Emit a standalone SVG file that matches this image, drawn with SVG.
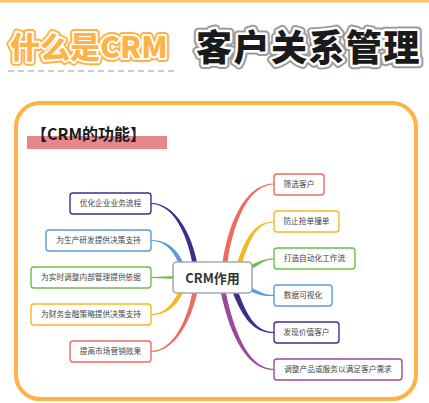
<svg xmlns="http://www.w3.org/2000/svg" width="429" height="403" viewBox="0 0 429 403">
<style>
.cjk{font-family:"Noto Sans CJK SC","Noto Sans",sans-serif}
.nt{font-family:"Noto Sans CJK SC","Noto Sans",sans-serif;font-size:7.7px;fill:#444;text-anchor:middle}
.box{fill:#fff;stroke-width:1.4}
</style>
<rect x="0" y="0" width="429" height="403" fill="#fff"/>
<rect x="0" y="0" width="429" height="2.5" fill="#ffc05e"/>
<g id="title">
<text class="cjk" x="10" y="58" font-size="30" font-weight="900" fill="none" stroke="#ffb347" stroke-width="8" stroke-linejoin="round">什么是CRM</text>
<text class="cjk" x="10" y="58" font-size="30" font-weight="900" fill="#ffb347" stroke="#fff" stroke-width="4" stroke-linejoin="round" paint-order="stroke">什么是CRM</text>
<line x1="8" y1="71" x2="177" y2="71" stroke="#bdbdbd" stroke-width="1.5" stroke-dasharray="6 4"/>
<text class="cjk" x="196" y="61" font-size="36" font-weight="900" letter-spacing="1.5" fill="none" stroke="#9a9a9a" stroke-width="9" stroke-linejoin="round">客户关系管理</text>
<text class="cjk" x="196" y="61" font-size="36" font-weight="900" letter-spacing="1.5" fill="#1a1a1a" stroke="#fff" stroke-width="5" stroke-linejoin="round" paint-order="stroke">客户关系管理</text>
</g>
<rect x="16" y="103" width="400" height="296" rx="24" fill="#fff" stroke="#ffb347" stroke-width="4"/>
<g id="card-title">
<rect x="27" y="136" width="140" height="13" fill="#e8878b"/>
<text class="cjk" x="31" y="139.5" font-size="16" font-weight="bold" fill="#1a1a1a">【CRM的功能】</text>
</g>
<g id="connectors">
<path fill="#ec6b5e" d="M222.5,262 C230,214 249,183.4 274,183.4 L274,184.6 C251,184.6 234.5,216 227.5,262 Z"/>
<path fill="#f6b822" d="M237.5,262 C245,239 254,221.4 274,221.4 L274,222.6 C256,222.6 249.5,241 242.5,262 Z"/>
<path fill="#6cc04a" d="M251,265.5 C259,260.5 265,258.4 274,258.4 L274,259.6 C265,259.6 261,263.5 253,268.5 Z"/>
<path fill="#5a9bd8" d="M249,290.5 C259,295.5 265,296.1 274,296.1 L274,294.9 C265,294.9 261,292.5 251,287.5 Z"/>
<path fill="#3b2f8c" d="M232.5,292 C243,319 254,333.1 274,333.1 L274,331.9 C256,331.9 247.5,317 237.5,290 Z"/>
<path fill="#9b4a9a" d="M220.5,291 C231,341 249,370.1 274,370.1 L274,368.9 C251,368.9 235.5,339 225.5,291 Z"/>
<path fill="#3b2f8c" d="M197.5,264 C192,235 176,202.9 151,202.9 L151,204.1 C174,204.1 187.5,236 192.5,264 Z"/>
<path fill="#5a9bd8" d="M184,264 C178,251 169,239.9 151,239.9 L151,241.1 C167,241.1 174,253 180,266 Z"/>
<path fill="#6cc04a" d="M151,276.9 L176,276 L176,279 L151,278.1 Z"/>
<path fill="#f6b822" d="M180,289 C174,301 167,313.9 151,313.9 L151,315.1 C169,315.1 178,303 184,291 Z"/>
<path fill="#ec6b5e" d="M192.5,291 C188,318 174,350.9 151,350.9 L151,352.1 C176,352.1 192,318 197.5,291 Z"/>
</g>
<g id="center">
<rect x="173" y="262" width="79" height="31" rx="4" fill="#fff" stroke="#a3aab2" stroke-width="1.6"/>
<text class="cjk" x="212.5" y="282.5" font-size="13" font-weight="bold" fill="#333" text-anchor="middle">CRM作用</text>
</g>
<g id="r1"><rect class="box" x="274" y="174" width="50" height="21" rx="3" stroke="#ec6b5e"/><text class="nt" x="299" y="187.3">筛选客户</text></g>
<g id="r2"><rect class="box" x="274" y="211" width="65" height="21" rx="3" stroke="#f6b822"/><text class="nt" x="306.5" y="224.3">防止抢单撞单</text></g>
<g id="r3"><rect class="box" x="274" y="248" width="81" height="21" rx="3" stroke="#6cc04a"/><text class="nt" x="314.5" y="261.3">打造自动化工作流</text></g>
<g id="r4"><rect class="box" x="274" y="285" width="58" height="21" rx="3" stroke="#5a9bd8"/><text class="nt" x="303" y="298.3">数据可视化</text></g>
<g id="r5"><rect class="box" x="274" y="322" width="65" height="21" rx="3" stroke="#3b2f8c"/><text class="nt" x="306.5" y="335.3">发现价值客户</text></g>
<g id="r6"><rect class="box" x="274" y="359" width="128" height="21" rx="3" stroke="#9b4a9a"/><text class="nt" x="338" y="372.3">调整产品或服务以满足客户需求</text></g>
<g id="l1"><rect class="box" x="70" y="193" width="81" height="21" rx="3" stroke="#3b2f8c"/><text class="nt" x="110.5" y="206.3">优化企业业务流程</text></g>
<g id="l2"><rect class="box" x="46" y="230" width="105" height="21" rx="3" stroke="#5a9bd8"/><text class="nt" x="98.5" y="243.3">为生产研发提供决策支持</text></g>
<g id="l3"><rect class="box" x="31" y="267" width="120" height="21" rx="3" stroke="#6cc04a"/><text class="nt" x="91" y="280.3">为实时调整内部管理提供依据</text></g>
<g id="l4"><rect class="box" x="31" y="304" width="120" height="21" rx="3" stroke="#f6b822"/><text class="nt" x="91" y="317.3">为财务金融策略提供决策支持</text></g>
<g id="l5"><rect class="box" x="70" y="341" width="81" height="21" rx="3" stroke="#ec6b5e"/><text class="nt" x="110.5" y="354.3">提高市场营销效果</text></g>
</svg>
